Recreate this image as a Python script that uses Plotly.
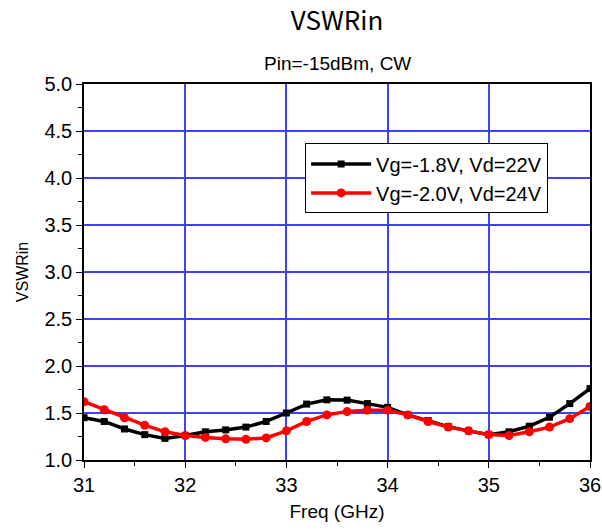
import plotly.graph_objects as go

freq = [31.0, 31.2, 31.4, 31.6, 31.8, 32.0, 32.2, 32.4, 32.6, 32.8, 33.0, 33.2, 33.4,
        33.6, 33.8, 34.0, 34.2, 34.4, 34.6, 34.8, 35.0, 35.2, 35.4, 35.6, 35.8, 36.0]
vswr_a = [1.45, 1.41, 1.33, 1.27, 1.23, 1.26, 1.30, 1.32, 1.35, 1.41, 1.50, 1.595, 1.64,
          1.637, 1.60, 1.56, 1.48, 1.42, 1.355, 1.31, 1.27, 1.30, 1.36, 1.455, 1.60, 1.76]
vswr_b = [1.62, 1.535, 1.45, 1.37, 1.30, 1.26, 1.24, 1.225, 1.22, 1.235, 1.31, 1.41, 1.48,
          1.515, 1.53, 1.53, 1.48, 1.41, 1.35, 1.31, 1.27, 1.26, 1.30, 1.35, 1.44, 1.57]
name_a = "Vg=-1.8V, Vd=22V"
name_b = "Vg=-2.0V, Vd=24V"
x_ticks = [31, 32, 33, 34, 35, 36]
y_ticks = [1.0, 1.5, 2.0, 2.5, 3.0, 3.5, 4.0, 4.5, 5.0]

fig = go.Figure()
fig.add_trace(go.Scatter(x=freq, y=vswr_a, name=name_a, mode="lines+markers",
                         line=dict(color="black", width=3.5),
                         marker=dict(symbol="square", size=7, color="black")))
fig.add_trace(go.Scatter(x=freq, y=vswr_b, name=name_b, mode="lines+markers",
                         line=dict(color="#ff0000", width=3.5),
                         marker=dict(symbol="circle", size=9, color="#ff0000")))

arial = "Liberation Sans, Arial"
tick_font = dict(family=arial, size=20, color="black")
fig.update_layout(
    width=602, height=530,
    margin=dict(l=84, r=12, t=84, b=70, autoexpand=False),
    paper_bgcolor="white", plot_bgcolor="white",
    title=dict(text="VSWRin", x=0.5, xanchor="center", y=1 - 21 / 530, yanchor="middle",
               xref="paper", font=dict(family="Noto Sans CJK SC", size=26, color="black")),
    showlegend=True,
    legend=dict(x=0.437, y=0.842, xanchor="left", yanchor="top",
                bordercolor="black", borderwidth=1, bgcolor="white",
                font=dict(family=arial, size=20, color="black"),
                itemwidth=60, tracegroupgap=0),
    annotations=[
        dict(text="Pin=-15dBm, CW", x=0.5, y=1.0, xref="paper", yref="paper",
             yanchor="bottom", yshift=8, showarrow=False,
             font=dict(family=arial, size=19, color="black")),
    ],
)

fig.update_xaxes(range=[31, 36], tickvals=x_ticks, ticktext=[str(v) for v in x_ticks],
                 automargin=False,
                 showgrid=True, gridcolor="#4040ff", gridwidth=1.5,
                 showline=True, linecolor="black", linewidth=1.5, mirror=True,
                 ticks="outside", ticklen=6, tickcolor="black",
                 minor=dict(dtick=0.5, ticks="outside", ticklen=4, tickcolor="black", showgrid=False),
                 tickfont=tick_font, zeroline=False,
                 title=dict(text="Freq (GHz)", font=dict(family=arial, size=19, color="black"),
                            standoff=10))
fig.update_yaxes(range=[1.0, 5.0], tickvals=y_ticks, ticktext=[f"{v:.1f}" for v in y_ticks],
                 automargin=False,
                 showgrid=True, gridcolor="#4040ff", gridwidth=1.5,
                 showline=True, linecolor="black", linewidth=1.5, mirror=True,
                 ticks="outside", ticklen=6, tickcolor="black",
                 minor=dict(dtick=0.25, ticks="outside", ticklen=4, tickcolor="black", showgrid=False),
                 tickfont=tick_font, zeroline=False,
                 title=dict(text="VSWRin", font=dict(family=arial, size=16, color="black"),
                            standoff=12))

fig.write_html("out.html", config={"displayModeBar": False},
               post_script="document.body.style.margin='0';")
